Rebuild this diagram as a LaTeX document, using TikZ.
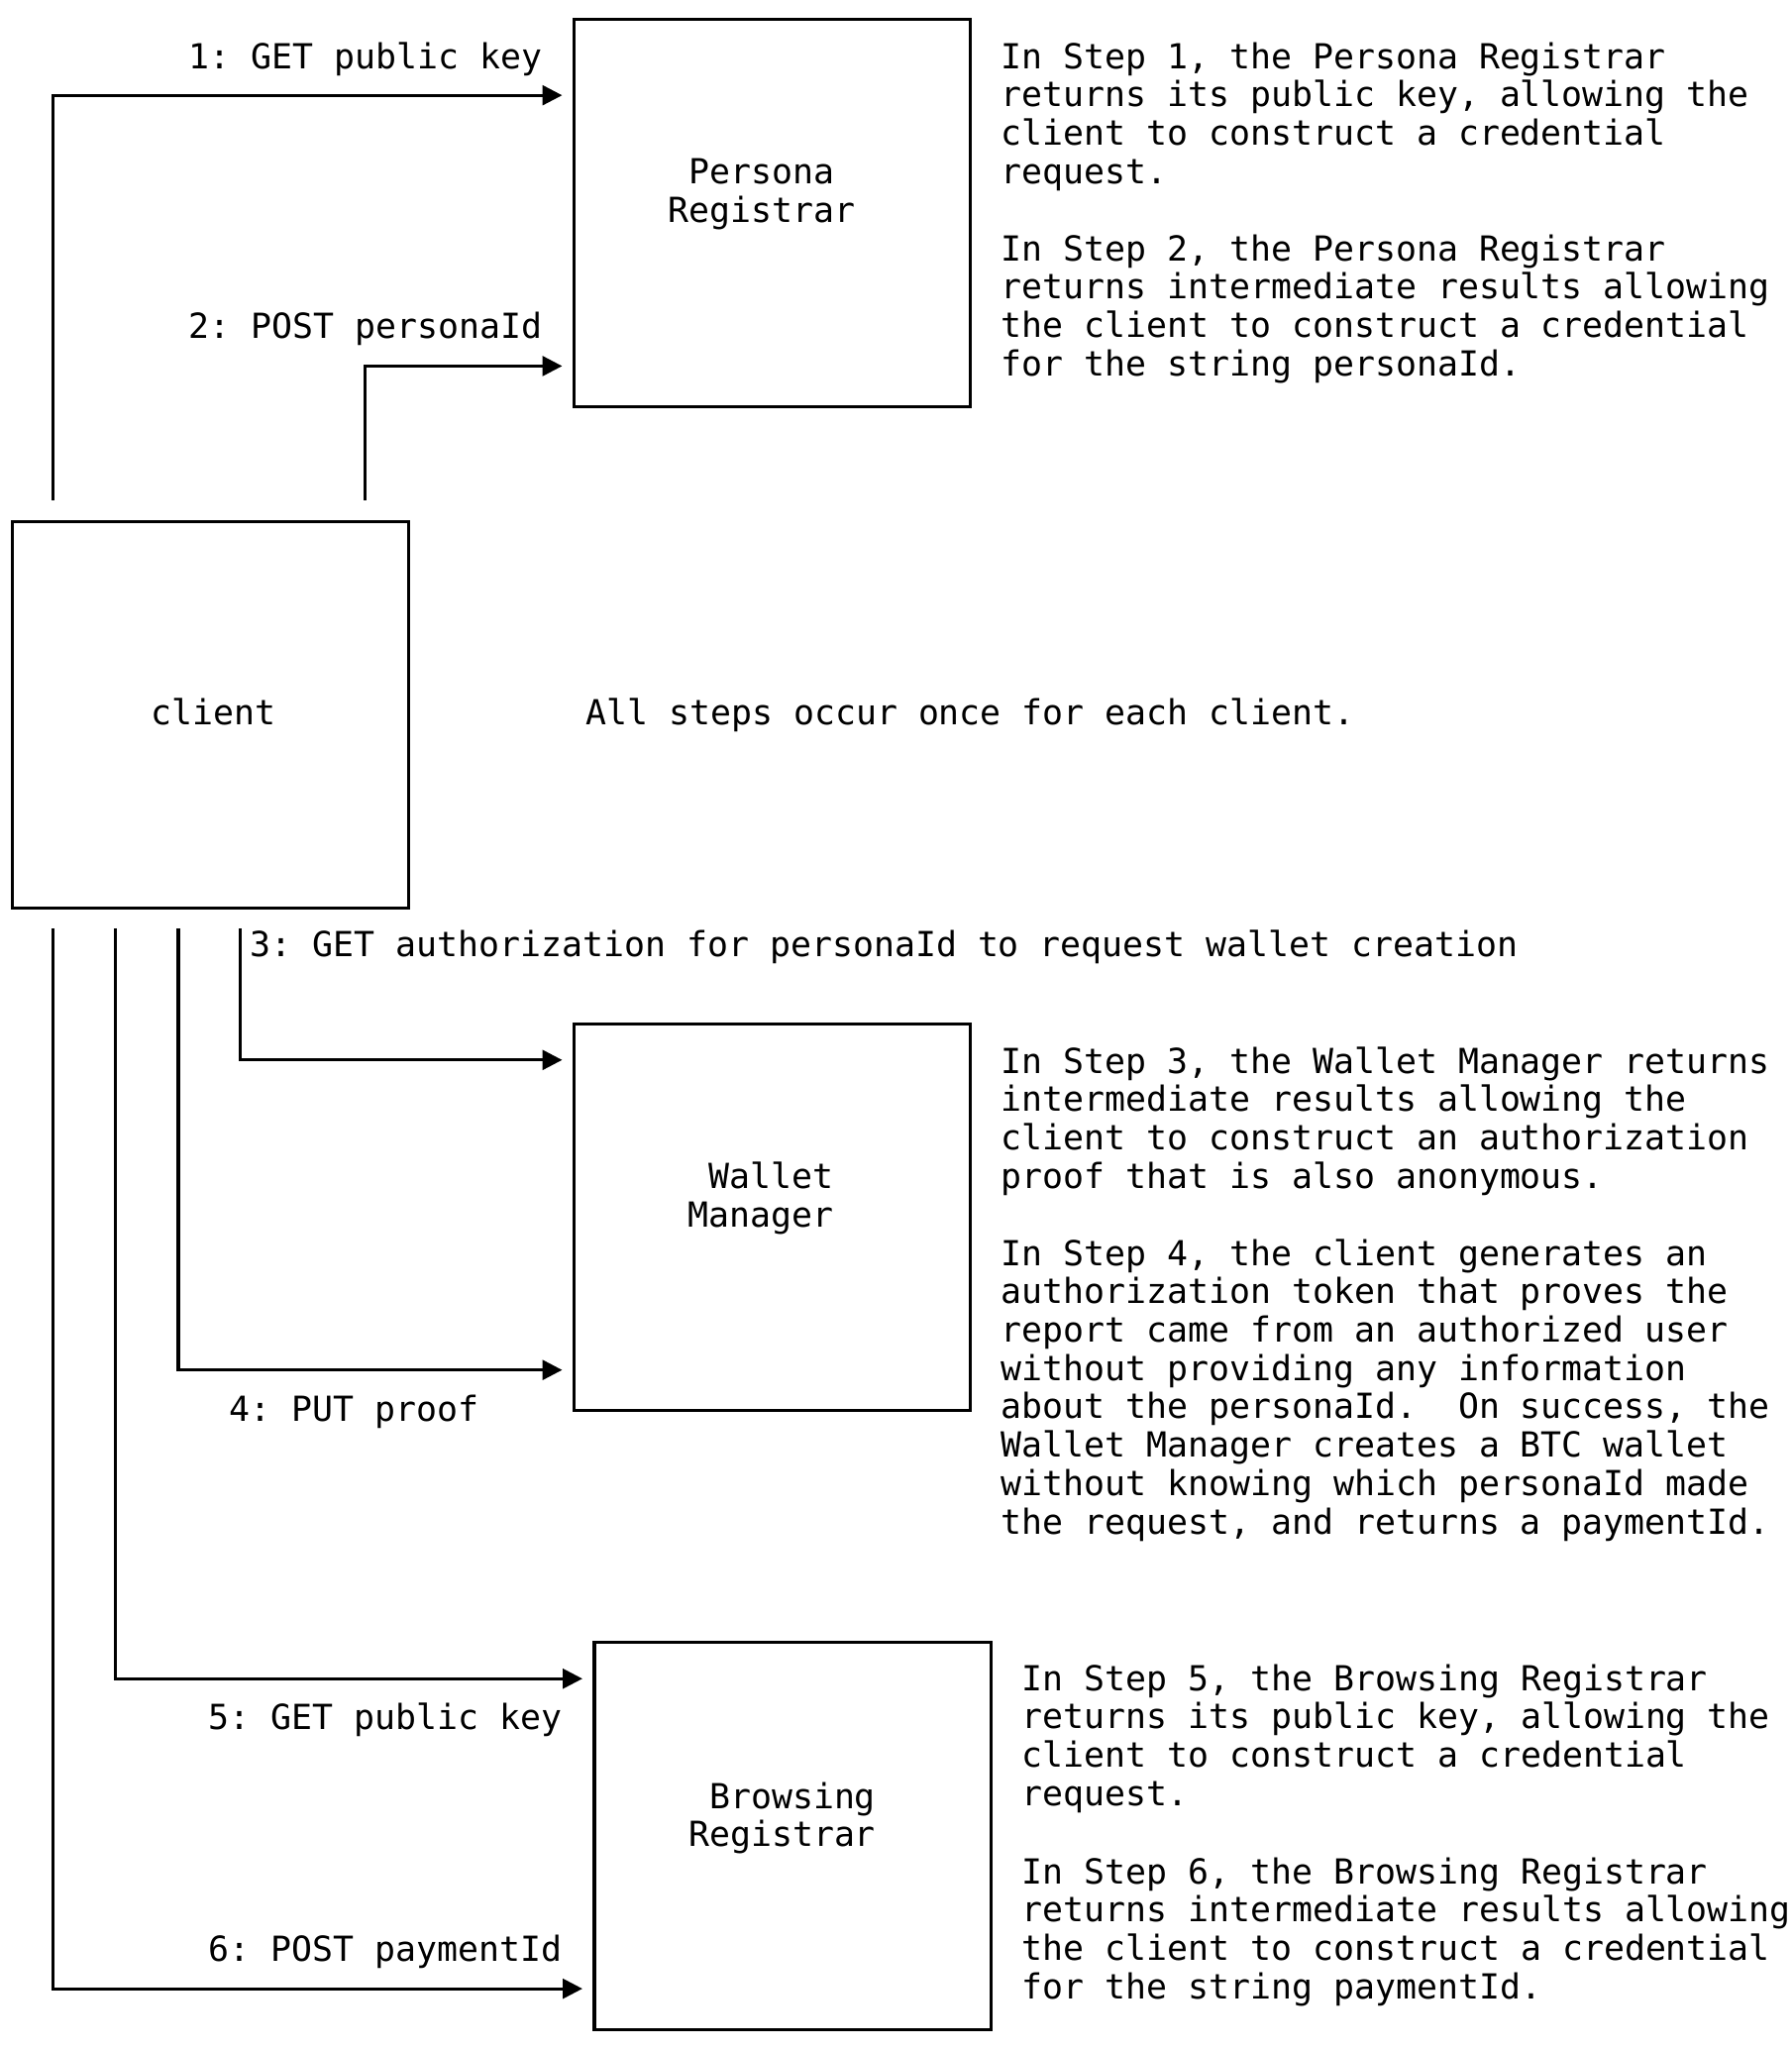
\documentclass[tikz,border=0pt]{standalone}
\usepackage{fontspec}
\setmonofont{DejaVu Sans Mono}
\usetikzlibrary{positioning,calc,arrows.meta}
\frenchspacing

\begin{document}
\begin{tikzpicture}[x=0.5pt,y=-0.5pt,
    font=\ttfamily\fontsize{13.2pt}{14.65pt}\selectfont,
    box/.style={draw, line width=1.15pt, minimum width=151.5pt, minimum height=148pt, inner sep=0pt},
    flow/.style={line width=1.15pt, -{Triangle[length=7.5pt,width=7.5pt]}},
    lbl/.style={inner sep=0pt},
    note/.style={inner sep=0pt, align=left, anchor=base west}]
    \useasboundingbox (0,0) rectangle (1370,1568);

    % boxes (multi-line texts sit on the baseline of their last line)
    \node[box] (persona) at (590.5,163) {};
    \node[box] (client) at (161,546.5) {};
    \node[box] (wallet) at (590.5,930.5) {};
    \node[box] (browsing) at (606,1403.5) {};
    \node[lbl, align=center, anchor=base] (personaname) at (582.5,170) {Persona\\Registrar};
    \node[lbl, anchor=base] (clientname) at (163,554) {client};
    \node[lbl, align=right, anchor=base east] (walletname) at (638,937.8) {Wallet\\Manager};
    \node[lbl, align=right, anchor=base east] (browsingname) at (670,1411.8) {Browsing\\Registrar};

    % free ends at the client
    \coordinate (c1) at ($(client.north west)+(32,-15)$);
    \coordinate (c2) at ($(client.north west)+(271,-15)$);
    \coordinate (c3) at ($(client.south west)+(175,14)$);
    \coordinate (c4) at ($(client.south west)+(128,14)$);
    \coordinate (c5) at ($(client.south west)+(80,14)$);
    \coordinate (c6) at ($(client.south west)+(32,14)$);

    % requests
    \draw[flow] (c1) |- ($(persona.north west)+(-8,59)$);
    \draw[flow] (c2) |- ($(persona.north west)+(-8,266)$);
    \draw[flow] (c3) |- ($(wallet.north west)+(-8,29)$);
    \draw[flow] (c4) |- ($(wallet.north west)+(-8,266)$);
    \draw[flow] (c5) |- ($(browsing.north west)+(-8,29)$);
    \draw[flow] (c6) |- ($(browsing.north west)+(-8,266)$);

    \node[lbl, anchor=base east] (l1) at (415,52.5) {1: GET public key};
    \node[lbl, anchor=base east] (l2) at (415,258.5) {2: POST personaId};
    \node[lbl, anchor=base west] (l3) at (191,731.5) {3: GET authorization for personaId to request wallet creation};
    \node[lbl, anchor=base west] (l4) at (175,1086.5) {4: PUT proof};
    \node[lbl, anchor=base east] (l5) at (430,1322.5) {5: GET public key};
    \node[lbl, anchor=base east] (l6) at (430,1499.6) {6: POST paymentId};

    % notes
    \node[note] (note1) at (765,140.2) {In Step 1, the Persona Registrar\\returns its public key, allowing the\\client to construct a credential\\request.};
    \node[note] (note2) at (765,287.2) {In Step 2, the Persona Registrar\\returns intermediate results allowing\\the client to construct a credential\\for the string personaId.};
    \node[lbl, anchor=base west] (allsteps) at (447.5,554) {All steps occur once for each client.};
    \node[note] (note3) at (765,908.4) {In Step 3, the Wallet Manager returns\\intermediate results allowing the\\client to construct an authorization\\proof that is also anonymous.};
    \node[note] (note4) at (765,1172.6) {In Step 4, the client generates an\\authorization token that proves the\\report came from an authorized user\\without providing any information\\about the personaId.\ \ On success, the\\Wallet Manager creates a BTC wallet\\without knowing which personaId made\\the request, and returns a paymentId.};
    \node[note] (note5) at (781,1380.4) {In Step 5, the Browsing Registrar\\returns its public key, allowing the\\client to construct a credential\\request.};
    \node[note] (note6) at (781,1527.9) {In Step 6, the Browsing Registrar\\returns intermediate results allowing\\the client to construct a credential\\for the string paymentId.};
\end{tikzpicture}
\end{document}
